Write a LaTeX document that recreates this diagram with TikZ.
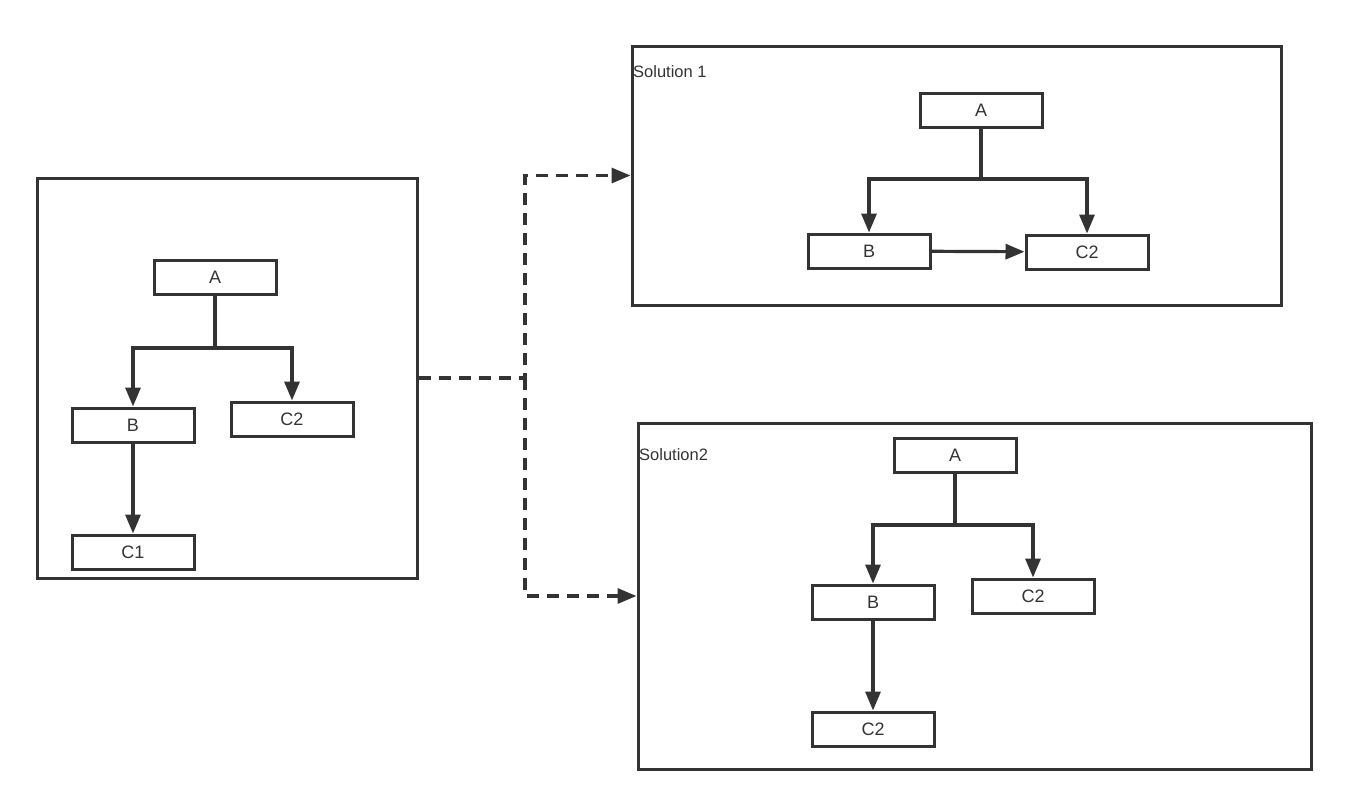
\documentclass[tikz,border=0pt]{standalone}
\usepackage{fontspec}
\setmainfont{Liberation Sans}
\usetikzlibrary{arrows.meta}
\definecolor{ink}{HTML}{333333}
\begin{document}
\begin{tikzpicture}[x=1pt,y=-1pt,
  box/.style={draw=ink, line width=3pt, minimum width=122pt, minimum height=34pt, inner sep=0pt, font=\fontsize{18}{20}\selectfont, text=ink},
  frame/.style={draw=ink, line width=3pt, inner sep=0pt},
  link/.style={draw=ink, line width=3.2pt, -{Triangle[length=19pt,width=15pt]}},
  dlink/.style={link, dash pattern=on 12pt off 8pt},
  title/.style={font=\fontsize{16.5}{18}\selectfont, text=ink, anchor=west, inner sep=0pt}]
\useasboundingbox (0,0) rectangle (1348,807);

% frames
\node[frame, minimum width=380pt, minimum height=400pt] (L) at (227,378) {};
\node[frame, minimum width=649pt, minimum height=259pt] (S1) at (956.5,175.5) {};
\node[frame, minimum width=673pt, minimum height=346pt] (S2) at (974.5,596) {};

\node[title] (t1) at (633,72) {Solution 1};
\node[title] (t2) at (639,455) {Solution2};

% left tree
\node[box] (lA) at (215,277) {A};
\node[box] (lB) at (133,425) {B};
\node[box] (lC2) at (292,419) {C2};
\node[box] (lC1) at (133,552) {C1};
\coordinate (lJ) at (215,348);
\draw[link] (lA) -- (lJ) -| (lB);
\draw[link] (lJ) -| (lC2);
\draw[link] (lB) -- (lC1);

% solution 1 tree
\node[box] (aA) at (981,110) {A};
\node[box] (aB) at (869,251) {B};
\node[box] (aC2) at (1087,252) {C2};
\coordinate (aJ) at (981,179);
\draw[link] (aA) -- (aJ) -| (aB);
\draw[link] (aJ) -| (aC2);
\draw[link] (aB) -- (aC2);

% solution 2 tree
\node[box] (bA) at (955,455) {A};
\node[box] (bB) at (873,602) {B};
\node[box] (bC2) at (1033,596) {C2};
\node[box] (bC3) at (873,729) {C2};
\coordinate (bJ) at (955,525);
\draw[link] (bA) -- (bJ) -| (bB);
\draw[link] (bJ) -| (bC2);
\draw[link] (bB) -- (bC3);

% dashed connectors
\coordinate (J) at (525,378);
\draw[dlink] (L.east) -- (J) |- (S1.west);
\draw[dlink] (J) |- (S2.west);
\end{tikzpicture}
\end{document}
